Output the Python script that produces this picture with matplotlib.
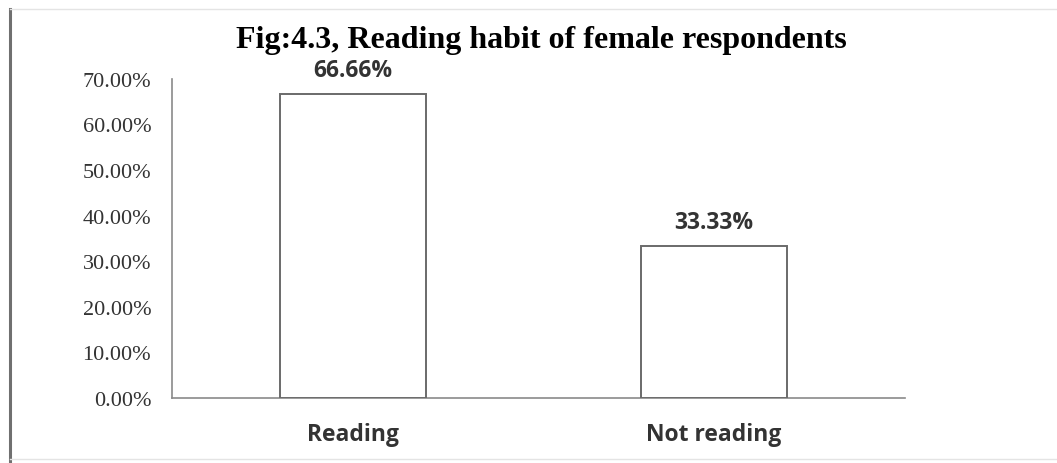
import matplotlib
matplotlib.use("Agg")
import matplotlib.pyplot as plt
from matplotlib.lines import Line2D
from matplotlib.ticker import FuncFormatter, MultipleLocator

# Chart data
categories = ["Reading", "Not reading"]
shares = [66.66, 33.33]
value_labels = ["66.66%", "33.33%"]
title = "Fig:4.3, Reading habit of female respondents"

fig = plt.figure(figsize=(10.57, 4.64), dpi=100)
fig.patch.set_facecolor("white")

# Frame around the figure
fig.add_artist(Line2D([0.009, 0.009], [0.005, 0.978], transform=fig.transFigure,
                      color="#707070", lw=2.2))
fig.add_artist(Line2D([0.009, 1.0], [0.978, 0.978], transform=fig.transFigure,
                      color="#e4e4e4", lw=1.0))
fig.add_artist(Line2D([0.009, 1.0], [0.008, 0.008], transform=fig.transFigure,
                      color="#e4e4e4", lw=1.0))

ax = fig.add_axes([0.1627, 0.140, 0.6935, 0.688])
x = range(len(categories))
ax.bar(x, shares, width=0.404, color="white", edgecolor="#6a6a6a", linewidth=1.4, zorder=3)

ax.set_xlim(-0.5, 1.528)
ax.set_ylim(0, 70)
ax.yaxis.set_major_locator(MultipleLocator(10))
ax.yaxis.set_major_formatter(FuncFormatter(lambda v, p: f"{v:.2f}%"))

for side in ("top", "right"):
    ax.spines[side].set_visible(False)
for side in ("left", "bottom"):
    ax.spines[side].set_color("#8a8a8a")
    ax.spines[side].set_linewidth(1.2)

ax.tick_params(axis="y", length=0, pad=15, labelsize=16, labelcolor="#333333")
ax.tick_params(axis="x", length=0, pad=17, labelsize=16.5, labelcolor="#333333")
for lab in ax.get_yticklabels():
    lab.set_family("Liberation Serif")
ax.set_xticks(list(x))
ax.set_xticklabels(categories, family="Open Sans", fontweight="bold")

for xi, v, s in zip(x, shares, value_labels):
    ax.annotate(s, (xi, v), xytext=(0, 9), textcoords="offset points",
                ha="center", va="bottom", fontsize=16.5, fontweight="bold",
                family="Open Sans", color="#333333")

fig.text(0.512, 0.913, title, ha="center", va="center", fontsize=23,
         fontweight="bold", family="Liberation Serif", color="black")

fig.savefig("out.png", dpi=100, facecolor="white")
